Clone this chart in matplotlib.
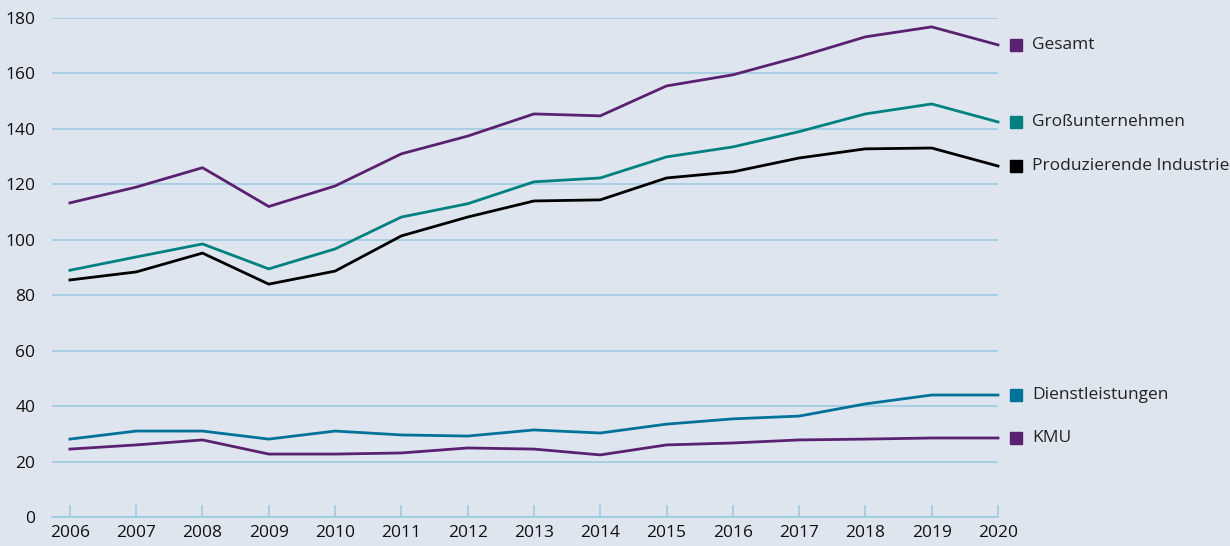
import matplotlib.pyplot as plt
import matplotlib.transforms as mtransforms

years = list(range(2006, 2021))
gesamt = [113.3, 119.0, 126.0, 112.0, 119.4, 131.0, 137.4, 145.4, 144.7, 155.5, 159.5, 166.0, 173.2, 176.8, 170.3]
gross = [89.0, 93.8, 98.5, 89.5, 96.7, 108.2, 113.0, 120.9, 122.3, 129.9, 133.5, 139.0, 145.4, 149.0, 142.5]
industrie = [85.5, 88.4, 95.2, 84.0, 88.7, 101.4, 108.2, 114.0, 114.4, 122.3, 124.5, 129.5, 132.8, 133.1, 126.6]
dienst = [28.1, 31.0, 31.0, 28.1, 31.0, 29.6, 29.2, 31.4, 30.3, 33.5, 35.4, 36.4, 40.8, 44.0, 44.0]
kmu = [24.5, 26.0, 27.8, 22.7, 22.7, 23.1, 24.9, 24.5, 22.4, 26.0, 26.7, 27.8, 28.1, 28.5, 28.5]

series = [
    ("Gesamt", gesamt, "#59216f"),
    ("Großunternehmen", gross, "#00817f"),
    ("Produzierende Industrie", industrie, "#000000"),
    ("Dienstleistungen", dienst, "#00729a"),
    ("KMU", kmu, "#59216f"),
]

bg = "#dfe5ef"
grid = "#9ecbe0"
plt.rcParams['font.family'] = ['Open Sans', 'DejaVu Sans']

fig = plt.figure(figsize=(12.3, 5.46), dpi=100, facecolor=bg)
ax = fig.add_axes([52 / 1230, 29 / 546, 946 / 1230, 499 / 546], facecolor=bg)

# squares sit a little to the right of each line end
shift = ax.transData + mtransforms.ScaledTranslation(12.6 / 72, 0, fig.dpi_scale_trans)

for name, vals, col in series:
    ax.plot(years, vals, color=col, lw=2.0, clip_on=False, zorder=3)
    ax.plot([years[-1]], [vals[-1]], marker="s", ms=8, color=col, ls="none",
            clip_on=False, transform=shift)
    ax.annotate(name, xy=(years[-1], vals[-1]), xytext=(24.5, 0), textcoords="offset points",
                color="#222222", fontsize=12.5, va="center", ha="left", annotation_clip=False)

ax.set_xlim(2005.73, 2020)
ax.set_ylim(0, 180)
ax.set_yticks(range(0, 181, 20))
ax.set_xticks(years)
ax.yaxis.grid(True, color=grid, lw=1.2)
ax.set_axisbelow(True)
for s in ["top", "right", "left"]:
    ax.spines[s].set_visible(False)
ax.spines["bottom"].set_color(grid)
ax.spines["bottom"].set_linewidth(1.2)
ax.tick_params(axis="x", direction="in", length=9, width=1.2, color=grid, labelsize=12.5,
               pad=6, labelcolor="#111111")
ax.tick_params(axis="y", length=0, labelsize=12.5, pad=12, labelcolor="#111111")

fig.savefig("out.png", dpi=100, facecolor=bg)
